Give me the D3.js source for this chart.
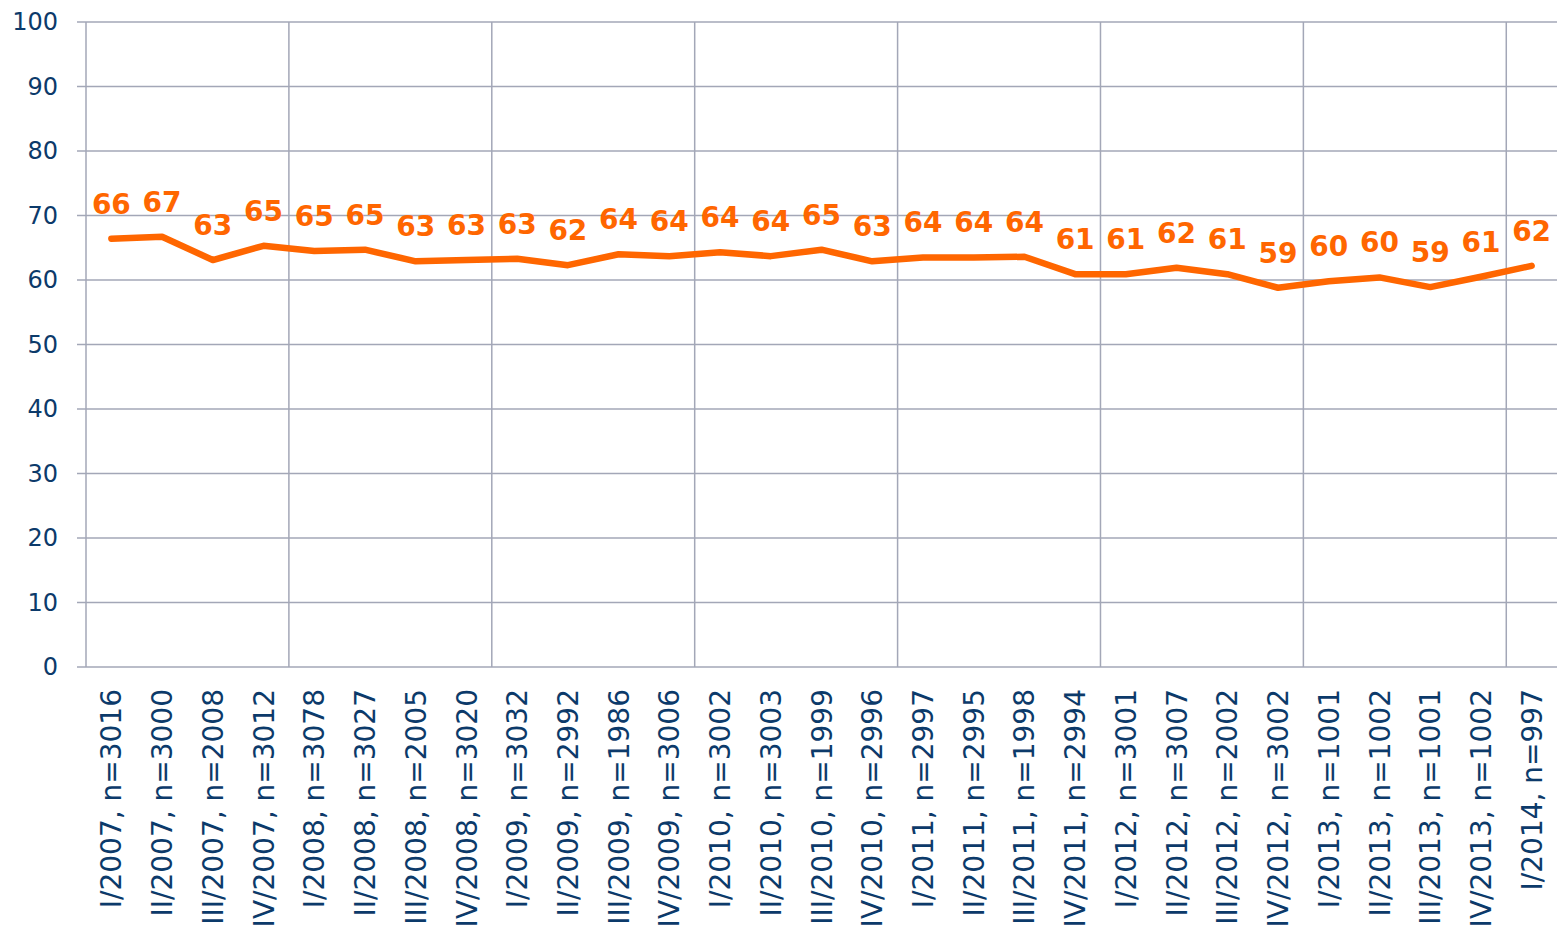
<!DOCTYPE html>
<html>
<head>
<meta charset="utf-8">
<script src="https://cdn.jsdelivr.net/npm/d3@7"></script>
<style>
  body { margin: 0; background: #fff; }
  svg { display: block; }
</style>
</head>
<body>
<svg id="chart"></svg>
<script>
// quarters and sample sizes
const quarters = ["I/2007", "II/2007", "III/2007", "IV/2007",
  "I/2008", "II/2008", "III/2008", "IV/2008",
  "I/2009", "II/2009", "III/2009", "IV/2009",
  "I/2010", "II/2010", "III/2010", "IV/2010",
  "I/2011", "II/2011", "III/2011", "IV/2011",
  "I/2012", "II/2012", "III/2012", "IV/2012",
  "I/2013", "II/2013", "III/2013", "IV/2013",
  "I/2014"];
const sampleSizes = [3016, 3000, 2008, 3012, 3078, 3027, 2005, 3020, 3032, 2992,
  1986, 3006, 3002, 3003, 1999, 2996, 2997, 2995, 1998, 2994,
  3001, 3007, 2002, 3002, 1001, 1002, 1001, 1002, 997];
// line values
const values = [66.4, 66.7, 63.1, 65.3, 64.5, 64.7, 62.9, 63.1, 63.3, 62.3,
  64.0, 63.7, 64.3, 63.7, 64.7, 62.9, 63.5, 63.5, 63.6, 60.9,
  60.9, 61.9, 60.9, 58.8, 59.8, 60.4, 58.9, 60.5, 62.2];
// printed data labels
const valueLabels = [66, 67, 63, 65, 65, 65, 63, 63, 63, 62,
  64, 64, 64, 64, 65, 63, 64, 64, 64, 61,
  61, 62, 61, 59, 60, 60, 59, 61, 62];
const yTicks = [0, 10, 20, 30, 40, 50, 60, 70, 80, 90, 100];

const categories = quarters.map((q, i) => q + ", n=" + sampleSizes[i]);
const data = categories.map((c, i) => ({ cat: c, value: values[i], label: valueLabels[i] }));

const W = 1557, H = 935;
const margin = { top: 22, right: 0, bottom: 268, left: 86 };
const textColor = "#0c3a6a", gridColor = "#a3a7b7", orange = "#ff6600";

const svg = d3.select("#chart").attr("width", W).attr("height", H);

const x = d3.scaleBand()
  .domain(categories)
  .range([margin.left, W - margin.right]);
const y = d3.scaleLinear()
  .domain([0, 100])
  .range([H - margin.bottom, margin.top]);

// horizontal gridlines (with little ticks left of the axis)
svg.append("g")
  .selectAll("line")
  .data(yTicks)
  .enter()
  .append("line")
    .attr("x1", margin.left - 9)
    .attr("x2", W - margin.right)
    .attr("y1", d => y(d))
    .attr("y2", d => y(d))
    .attr("stroke", gridColor)
    .attr("stroke-width", 1.5);

// vertical gridlines at each year boundary
const yearStarts = categories.filter((c, i) => i % 4 === 0);
svg.append("g")
  .selectAll("line")
  .data(yearStarts)
  .enter()
  .append("line")
    .attr("x1", d => x(d))
    .attr("x2", d => x(d))
    .attr("y1", y(100))
    .attr("y2", y(0))
    .attr("stroke", gridColor)
    .attr("stroke-width", 1.5);

// y axis labels
const yAxis = svg.append("g")
  .attr("transform", "translate(" + margin.left + ",0)")
  .call(d3.axisLeft(y).tickValues(yTicks).tickSize(9).tickPadding(19));
yAxis.select(".domain").remove();
yAxis.selectAll(".tick line").remove();
yAxis.selectAll("text")
  .attr("fill", textColor)
  .style("font-family", "Verdana, 'DejaVu Sans', sans-serif")
  .style("font-size", "24px");

// x axis labels, rotated
const xAxis = svg.append("g")
  .attr("transform", "translate(0," + (H - margin.bottom) + ")")
  .call(d3.axisBottom(x).tickSize(0).tickPadding(0));
xAxis.select(".domain").remove();
xAxis.selectAll("text")
  .attr("fill", textColor)
  .style("font-family", "Verdana, 'DejaVu Sans', sans-serif")
  .style("font-size", "28px")
  .attr("text-anchor", "end")
  .attr("transform", "rotate(-90)")
  .attr("x", -22)
  .attr("y", 0)
  .attr("dy", "0.36em");

// line
const line = d3.line()
  .x(d => x(d.cat) + x.bandwidth() / 2)
  .y(d => y(d.value));

svg.append("path")
  .datum(data)
  .attr("fill", "none")
  .attr("stroke", orange)
  .attr("stroke-width", 6.5)
  .attr("stroke-linejoin", "round")
  .attr("stroke-linecap", "round")
  .attr("d", line);

// value labels
svg.append("g")
  .selectAll("text")
  .data(data)
  .enter()
  .append("text")
    .attr("x", d => x(d.cat) + x.bandwidth() / 2)
    .attr("y", d => y(d.value) - 25)
    .attr("text-anchor", "middle")
    .attr("fill", orange)
    .style("font-family", "Verdana, 'DejaVu Sans', sans-serif")
    .style("font-weight", "bold")
    .style("font-size", "28px")
    .text(d => d.label);
</script>
</body>
</html>
